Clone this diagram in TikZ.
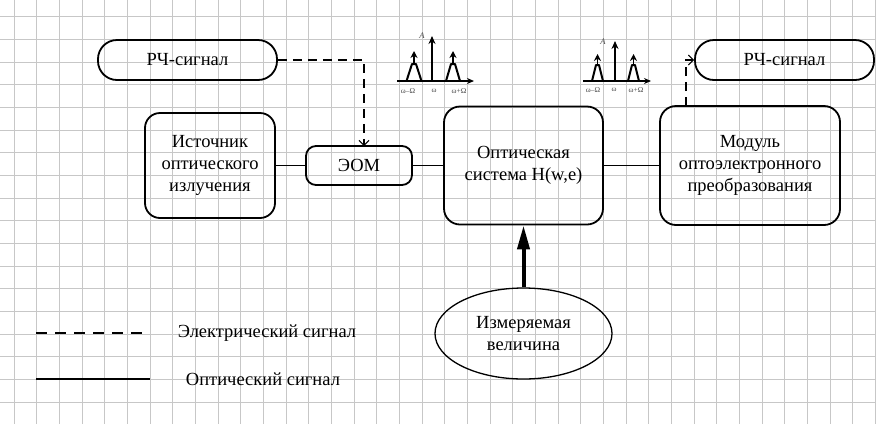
\documentclass[tikz,border=0pt]{standalone}
\usepackage{fontspec}
\setmainfont{Liberation Serif}
\usetikzlibrary{arrows.meta,shapes.geometric,calc}
\begin{document}
\begin{tikzpicture}[x=1pt,y=-1pt,
  gridline/.style={draw=black!22,line width=0.7pt},
  txt/.style={font=\fontsize{18.5}{21.7}\selectfont,align=center},
  box/.style={txt,draw,line width=1.8pt,rounded corners=15pt,inner sep=0pt},
  pill/.style={box,rounded corners=19pt},
  conn/.style={line width=1.3pt},
  econn/.style={line width=1.4pt,dash pattern=on 9pt off 6pt},
  barb/.style={-{Straight Barb[length=5pt,width=10pt,line width=1pt]}},
  peak/.style={line width=2pt,line join=round},
  tiny/.style={font=\fontsize{7.5}{7.5}\selectfont,text=black!70,inner sep=0pt},
  amp/.style={font=\fontsize{8.5}{8.5}\selectfont\itshape,text=black!70,inner sep=0pt}]
\useasboundingbox (0,0) rectangle (876,424);
\fill[white] (0,0) rectangle (876,424);
% grid
\foreach \i in {0,...,38} \draw[gridline] ({14+22.67*\i},0) -- ({14+22.67*\i},424);
\foreach \j in {0,...,17} \draw[gridline] (0,{16.7+22.67*\j}) -- (876,{16.7+22.67*\j});

% nodes
\node[pill,minimum width=179pt,minimum height=40pt] (rf1) at (187.5,60) {РЧ-сигнал};
\node[pill,minimum width=179pt,minimum height=40pt] (rf2) at (784.5,60) {РЧ-сигнал};
\node[box,minimum width=130pt,minimum height=105pt] (src) at (210,165.5) {Источник\\оптического\\излучения};
\node[box,rounded corners=10pt,minimum width=106pt,minimum height=39pt] (eom) at (359,165.5) {ЭОМ};
\node[box,rounded corners=16pt,minimum width=159pt,minimum height=118pt] (opt) at (523.5,165.5) {Оптическая\\система H(w,e)};
\node[box,rounded corners=16pt,minimum width=180pt,minimum height=119pt] (mod) at (750,165.5) {Модуль\\оптоэлектронного\\преобразования};
\node[txt,draw,ellipse,line width=1.3pt,inner sep=0pt,minimum width=177pt,minimum height=91pt] (meas) at (523.5,333.5) {Измеряемая\\величина};

% optical connectors
\draw[conn] (src) -- (eom);
\draw[conn] (eom) -- (opt);
\draw[conn] (opt) -- (mod);

% electrical connectors
\coordinate (eomin) at (364,146);
\coordinate (modout) at (686,106);
\draw[econn,barb] (rf1.east) -| (eomin);
\draw[econn,barb] (modout) |- (rf2.west);

% measured quantity
\draw[line width=4pt,-{Triangle[length=24pt,width=12pt]}] (meas.north) -- (opt.south);

% spectrum icon 1
\draw[line width=1.6pt,-{Stealth[length=7pt,width=6pt]}] (397,81) -- (474,81);
\draw[line width=1.5pt,-{Stealth[length=8pt,width=7pt]}] (432,81) -- (432,36);
\draw[peak] (406.5,81) -- (412,64) -- (416,64) -- (421.5,81);
\draw[line width=1.5pt,-{Stealth[length=7pt,width=7pt]}] (414,64) -- (414,51);
\draw[peak] (446,81) -- (451,64) -- (455,64) -- (460,81);
\draw[line width=1.5pt,-{Stealth[length=7pt,width=7pt]}] (453,64) -- (453,51);
\node[amp] (a1) at (422,36) {A};
\node[tiny] (l1a) at (408,91) {ω–Ω};
\node[tiny] (l1b) at (434,91) {ω};
\node[tiny] (l1c) at (459,91) {ω+Ω};

% spectrum icon 2
\draw[line width=1.6pt,-{Stealth[length=7pt,width=6pt]}] (583,81) -- (651,81);
\draw[line width=1.5pt,-{Stealth[length=8pt,width=7pt]}] (615,81) -- (615,41);
\draw[peak] (592,81) -- (596,65) -- (599,65) -- (603,81);
\draw[line width=1.5pt,-{Stealth[length=7pt,width=7pt]}] (597.5,65) -- (597.5,54);
\draw[peak] (628,81) -- (632,65) -- (635,65) -- (639,81);
\draw[line width=1.5pt,-{Stealth[length=7pt,width=7pt]}] (633.5,65) -- (633.5,54);
\node[amp] (a2) at (603,42) {A};
\node[tiny] (l2a) at (593,90) {ω–Ω};
\node[tiny] (l2b) at (614,90) {ω};
\node[tiny] (l2c) at (636,90) {ω+Ω};

% legend
\coordinate (le1) at (36,333);
\coordinate (le2) at (143,333);
\coordinate (lo1) at (36,379);
\coordinate (lo2) at (150,379);
\draw[line width=1.4pt,dash pattern=on 11pt off 8pt] (le1) -- (le2);
\draw[line width=1.4pt] (lo1) -- (lo2);
\node[txt] (lt1) at (267,333) {Электрический сигнал};
\node[txt] (lt2) at (263,379) {Оптический сигнал};
\end{tikzpicture}
\end{document}
